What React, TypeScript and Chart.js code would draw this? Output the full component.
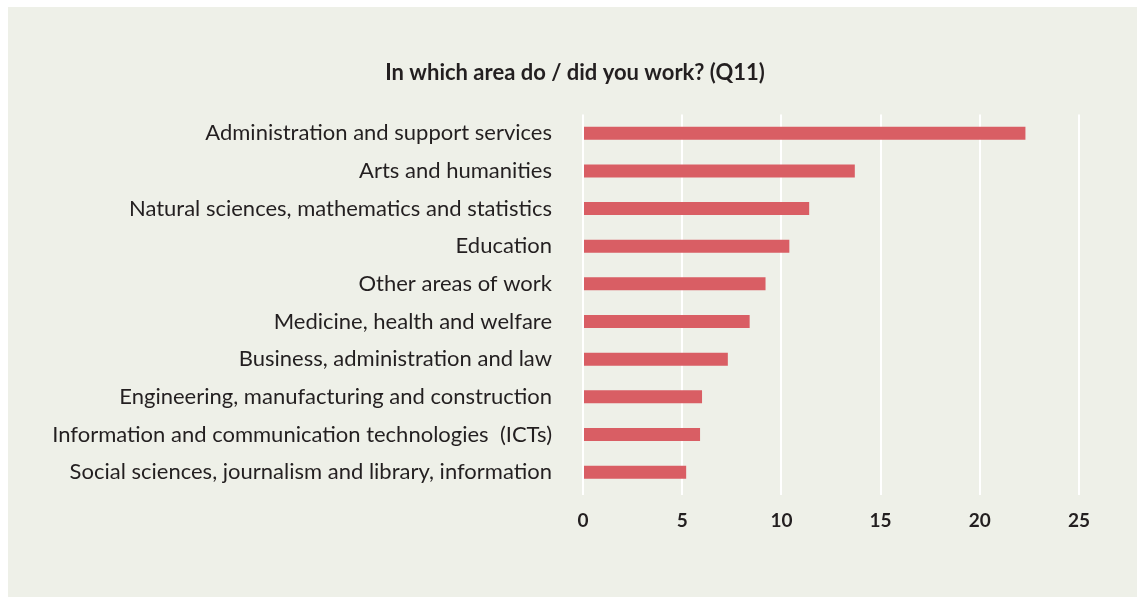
import React, { useEffect, useRef } from "react";
import { Chart, registerables } from "chart.js";

Chart.register(...registerables);

const categories: string[] = [
  "Administration and support services",
  "Arts and humanities",
  "Natural sciences, mathematics and statistics",
  "Education",
  "Other areas of work",
  "Medicine, health and welfare",
  "Business, administration and law",
  "Engineering, manufacturing and construction",
  "Information and communication technologies  (ICTs)",
  "Social sciences, journalism and library, information",
];

const values: number[] = [22.3, 13.7, 11.4, 10.4, 9.2, 8.4, 7.3, 6.0, 5.9, 5.2];

const xTicks: number[] = [0, 5, 10, 15, 20, 25];

const titleText = "In which area do / did you work? (Q11)";

const titleCenterPlugin = {
  id: "titleCenter",
  afterLayout(chart: any) {
    const t = chart.titleBlock;
    if (t) {
      t.left = 0;
      t.right = chart.width + 5;
      t.width = t.right - t.left;
    }
  },
};

export default function App() {
  const ref = useRef<HTMLCanvasElement | null>(null);

  useEffect(() => {
    if (!ref.current) return;
    const chart = new Chart(ref.current, {
      type: "bar",
      data: {
        labels: categories,
        datasets: [
          {
            data: values,
            backgroundColor: "#d95e64",
            borderWidth: 0,
            categoryPercentage: 0.345,
            barPercentage: 1,
          },
        ],
      },
      plugins: [titleCenterPlugin],
      options: {
        indexAxis: "y",
        animation: false,
        responsive: false,
        maintainAspectRatio: false,
        layout: { padding: { top: 0, right: 58, bottom: 46, left: 0 } },
        plugins: {
          legend: { display: false },
          tooltip: { enabled: false },
          title: {
            display: true,
            text: titleText,
            color: "#231f20",
            font: { family: "Lato", size: 22, weight: "bold" },
            padding: { top: 53, bottom: 28 },
          },
        },
        scales: {
          x: {
            min: 0,
            max: 25,
            afterBuildTicks: (scale: any) => {
              scale.ticks = xTicks.map((v) => ({ value: v }));
            },
            afterFit: (scale: any) => {
              scale.height = 60;
            },
            grid: {
              color: "#ffffff",
              lineWidth: 2,
              drawTicks: true,
              tickLength: 4,
            },
            border: { display: false },
            ticks: {
              color: "#231f20",
              font: { family: "Lato", size: 19, weight: "bold" },
              padding: 14,
            },
          },
          y: {
            afterFit: (scale: any) => {
              scale.width = 575;
            },
            grid: { display: false, drawTicks: false },
            border: { display: false },
            ticks: {
              color: "#231f20",
              font: { family: "Lato", size: 22 },
              padding: 31,
            },
          },
        },
      },
    });
    return () => chart.destroy();
  }, []);

  return (
    <div
      style={{
        position: "absolute",
        left: 8,
        top: 7,
        width: 1129,
        height: 590,
        background: "#eef0e8",
      }}
    >
      <canvas ref={ref} width={1129} height={590} style={{ display: "block" }} />
    </div>
  );
}
